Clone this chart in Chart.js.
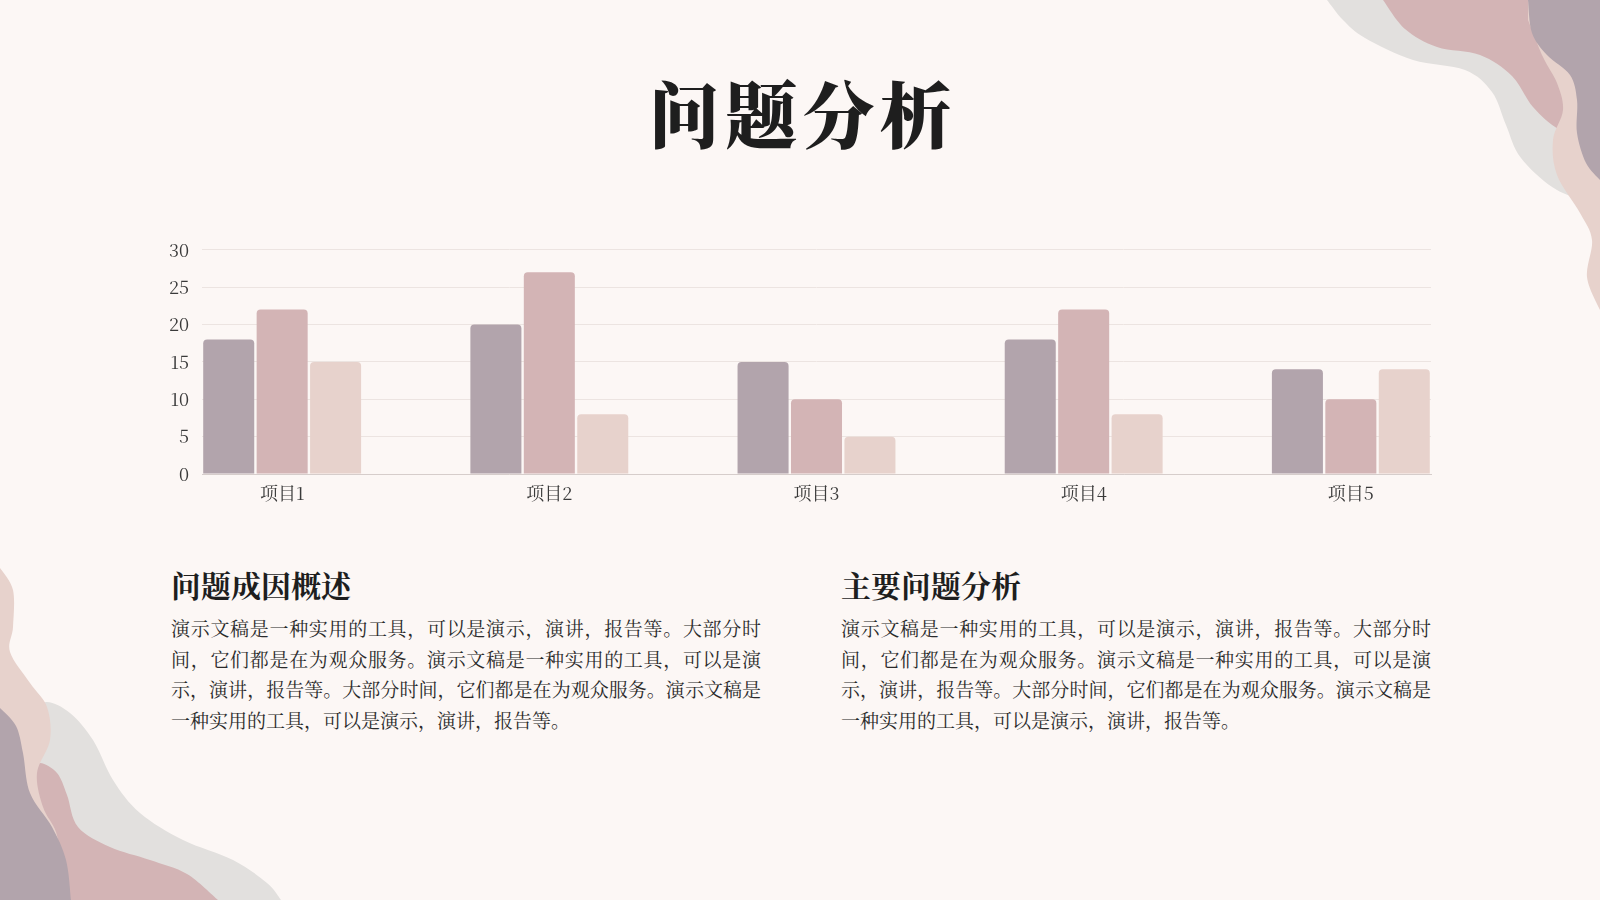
<!DOCTYPE html>
<html lang="zh-CN">
<head>
<meta charset="utf-8">
<title>问题分析</title>
<script src="https://cdn.jsdelivr.net/npm/chart.js@4.4.1/dist/chart.umd.min.js"></script>
<style>
  html, body { margin: 0; padding: 0; }
  body {
    width: 1600px; height: 900px; overflow: hidden; position: relative;
    background: #fcf7f5;
    font-family: "Noto Serif CJK SC", "Source Han Serif SC", "Noto Sans CJK SC", serif;
    color: #222;
  }
  #deco { position: absolute; left: 0; top: 0; width: 1600px; height: 900px; }
  .title {
    position: absolute; left: 0; width: 1600px; top: 75px;
    text-align: center; font-size: 72px; line-height: 72px; font-weight: 900;
    letter-spacing: 5px; padding-left: 5px; box-sizing: border-box; color: #1e1e1e;
  }
  #chartBox { position: absolute; left: 150px; top: 226px; width: 1300px; height: 288px; }
  .col { position: absolute; width: 590px; }
  .col h2 {
    margin: 0; font-size: 30px; line-height: 30px; font-weight: 700; color: #1e1e1e;
    height: 30px; white-space: nowrap;
  }
  .col .body { margin-top: 14px; font-size: 19px; line-height: 30.5px; color: #2a2a2a; }
  .col .body span { display: block; white-space: nowrap; text-align: justify; text-align-last: justify; }
  .col .body span.last { text-align-last: left; }
</style>
</head>
<body>
<svg id="deco" viewBox="0 0 1600 900" xmlns="http://www.w3.org/2000/svg"></svg>

<div class="title">问题分析</div>

<div id="chartBox"><canvas id="chart"></canvas></div>

<div class="col" style="left:171px; top:569px;">
  <h2>问题成因概述</h2>
  <div class="body">
    <span>演示文稿是一种实用的工具，可以是演示，演讲，报告等。大部分时</span>
    <span>间，它们都是在为观众服务。演示文稿是一种实用的工具，可以是演</span>
    <span>示，演讲，报告等。大部分时间，它们都是在为观众服务。演示文稿是</span>
    <span class="last">一种实用的工具，可以是演示，演讲，报告等。</span>
  </div>
</div>

<div class="col" style="left:841px; top:569px;">
  <h2>主要问题分析</h2>
  <div class="body">
    <span>演示文稿是一种实用的工具，可以是演示，演讲，报告等。大部分时</span>
    <span>间，它们都是在为观众服务。演示文稿是一种实用的工具，可以是演</span>
    <span>示，演讲，报告等。大部分时间，它们都是在为观众服务。演示文稿是</span>
    <span class="last">一种实用的工具，可以是演示，演讲，报告等。</span>
  </div>
</div>

<script>
// ---- data ----
const categories = ["项目1", "项目2", "项目3", "项目4", "项目5"];
const series1 = [18, 20, 15, 18, 14];
const series2 = [22, 27, 10, 22, 10];
const series3 = [15, 8, 5, 8, 14];
const yTicks = [0, 5, 10, 15, 20, 25, 30];

// ---- decorative background shapes ----
function smoothPath(pts, closing) {
  let d = "M" + pts[0][0] + "," + pts[0][1];
  for (let i = 0; i < pts.length - 1; i++) {
    const p0 = pts[i - 1] || pts[i], p1 = pts[i], p2 = pts[i + 1], p3 = pts[i + 2] || p2;
    const c1x = p1[0] + (p2[0] - p0[0]) / 6, c1y = p1[1] + (p2[1] - p0[1]) / 6;
    const c2x = p2[0] - (p3[0] - p1[0]) / 6, c2y = p2[1] - (p3[1] - p1[1]) / 6;
    d += " C" + c1x.toFixed(1) + "," + c1y.toFixed(1) + " " + c2x.toFixed(1) + "," + c2y.toFixed(1) + " " + p2[0] + "," + p2[1];
  }
  closing.forEach(p => { d += " L" + p[0] + "," + p[1]; });
  return d + " Z";
}
const shapes = [
  // top-right
  { c: "#e2e0de", p: [[1327,0],[1343,20],[1365,38],[1413,60],[1465,70],[1492,92],[1506,125],[1521,158],[1557,190],[1600,205]], z: [[1600,0]] },
  { c: "#d3b4b5", p: [[1383,0],[1405,29],[1437,47],[1480,55],[1512,76],[1533,107],[1560,130],[1600,145]], z: [[1600,0]] },
  { c: "#e7d2cc", p: [[1528,20],[1543,57],[1557,83],[1563,110],[1553,140],[1557,175],[1580,213],[1592,240],[1587,277],[1600,310]], z: [[1600,0],[1528,0]] },
  { c: "#b2a4ac", p: [[1528,0],[1532,33],[1547,55],[1570,75],[1577,100],[1577,133],[1586,163],[1600,180]], z: [[1600,0]] },
  // bottom-left
  { c: "#e2e0de", p: [[30,712],[47,702],[70,713],[93,740],[113,780],[140,813],[183,840],[233,860],[267,883],[281,900]], z: [[0,900]] },
  { c: "#d3b4b5", p: [[25,770],[40,763],[57,773],[67,795],[78,827],[110,847],[150,860],[187,874],[218,900]], z: [[0,900]] },
  { c: "#e7d2cc", p: [[0,568],[13,590],[13,627],[10,652],[30,683],[47,707],[50,740],[37,773],[43,807],[56,832],[60,860],[58,900]], z: [[0,900]] },
  { c: "#b2a4ac", p: [[0,708],[16,726],[23,753],[30,793],[52,827],[66,860],[71,900]], z: [[0,900]] }
];
const svg = document.getElementById("deco");
shapes.forEach(s => {
  const path = document.createElementNS("http://www.w3.org/2000/svg", "path");
  path.setAttribute("d", smoothPath(s.p, s.z));
  path.setAttribute("fill", s.c);
  svg.appendChild(path);
});

// ---- chart ----
const FONT = '"Noto Serif CJK SC", "Source Han Serif SC", "Liberation Serif", "Noto Sans CJK SC", serif';
Chart.defaults.font.family = FONT;
Chart.defaults.color = "#3a3a3a";

const colors = ["#b2a4ac", "#d3b4b5", "#e7d2cc"];
const seriesList = [series1, series2, series3];

new Chart(document.getElementById("chart"), {
  type: "bar",
  data: {
    datasets: seriesList.map((vals, k) => ({
      label: "系列" + (k + 1),
      data: vals.map((v, i) => ({ x: i, y: v })),
      backgroundColor: colors[k],
      borderRadius: 4,
      borderSkipped: "start",
      categoryPercentage: 0.6,
      barPercentage: 0.955
    }))
  },
  options: {
    responsive: true,
    maintainAspectRatio: false,
    animation: false,
    layout: { padding: { left: 0, right: 19, top: 0, bottom: 0 } },
    plugins: { legend: { display: false }, tooltip: { enabled: false } },
    scales: {
      x: {
        type: "linear",
        min: -0.3,
        max: 4.3,
        offset: false,
        grid: { display: false, drawTicks: false },
        border: { display: true, color: "#d6cdcb", width: 1 },
        afterBuildTicks: (scale) => { scale.ticks = categories.map((c, i) => ({ value: i })); },
        afterFit: (scale) => { scale.height = 40; },
        ticks: {
          autoSkip: false, maxRotation: 0, padding: 8,
          font: { size: 18 }, color: "#3a3a3a",
          callback: (v) => categories[v] ?? ""
        }
      },
      y: {
        min: 0, max: 30,
        afterBuildTicks: (scale) => { scale.ticks = yTicks.map(v => ({ value: v })); },
        afterFit: (scale) => { scale.width = 52; },
        grid: { color: "#ece4e1", lineWidth: 1, drawTicks: false },
        border: { display: false },
        ticks: { padding: 13, font: { size: 18 }, color: "#3a3a3a" }
      }
    }
  }
});
</script>
</body>
</html>
